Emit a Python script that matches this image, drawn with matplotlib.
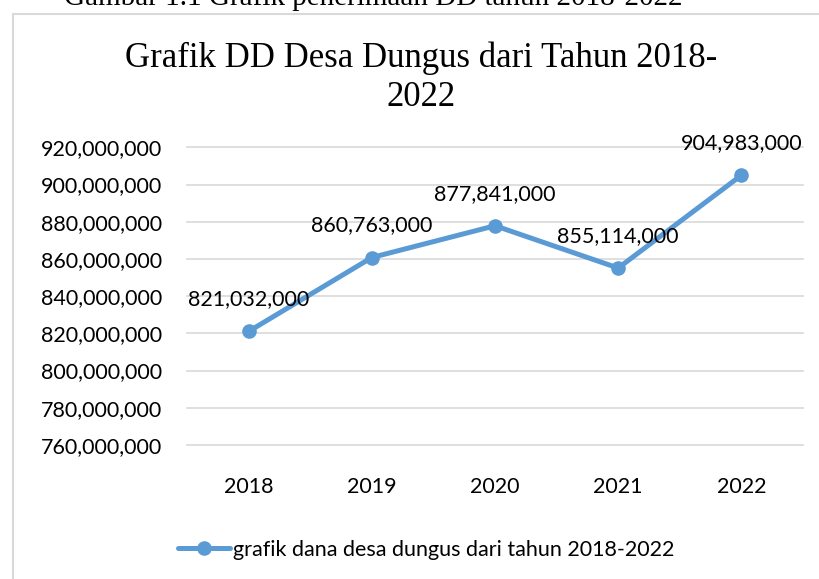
import matplotlib
matplotlib.use("Agg")
import matplotlib.pyplot as plt
from matplotlib.patches import Rectangle
from matplotlib.ticker import FuncFormatter

# data
years = ["2018", "2019", "2020", "2021", "2022"]
dana_desa = [821032000, 860763000, 877841000, 855114000, 904983000]
y_ticks = [760000000, 780000000, 800000000, 820000000, 840000000,
           860000000, 880000000, 900000000, 920000000]
series_name = "grafik dana desa dungus dari tahun 2018-2022"

blue = "#5b9bd5"
grid_col = "#d9d9d9"
sans = "Lato"
serif = "Liberation Serif"

fig = plt.figure(figsize=(8.19, 5.79), dpi=100)
fig.patch.set_facecolor("white")

# chart border (cut off on right and bottom like the screenshot)
fig.patches.append(Rectangle((12.7 / 819, -0.2), 1.3, 1 - 14 / 579 + 0.2,
                             transform=fig.transFigure, fill=False,
                             edgecolor=grid_col, linewidth=1.5))

# caption above the chart, mostly cut off in the original screenshot
fig.text(373 / 819, 1 - 5 / 579, "Gambar 1.1 Grafik penerimaan DD tahun 2018-2022",
         ha="center", va="baseline", fontsize=21, family=serif)

# chart title
fig.text(421.5 / 819, 1 - 67 / 579, "Grafik DD Desa Dungus dari Tahun 2018-",
         ha="center", va="baseline", fontsize=25, family=serif)
fig.text(421.5 / 819, 1 - 106 / 579, "2022",
         ha="center", va="baseline", fontsize=25, family=serif)

ax = fig.add_axes([187 / 819, 1 - 445 / 579, 616 / 819, 297.7 / 579])
x = list(range(len(years)))
line, = ax.plot(x, dana_desa, color=blue, linewidth=3.6, marker="o",
                markersize=9.5, solid_capstyle="round", zorder=3,
                label=series_name)

for xi, v in zip(x, dana_desa):
    ax.annotate(f"{v:,}", (xi, v), xytext=(0, 23), textcoords="offset points",
                ha="center", va="center", fontsize=15.5, family=sans)

ax.set_xlim(-0.5, len(years) - 0.5)
ax.set_ylim(y_ticks[0], y_ticks[-1])
ax.set_xticks(x)
ax.set_xticklabels(years)
ax.set_yticks(y_ticks)
ax.yaxis.set_major_formatter(FuncFormatter(lambda v, p: f"{int(v):,}"))
ax.tick_params(axis="both", length=0, labelsize=15.5)
ax.tick_params(axis="y", pad=18)
ax.tick_params(axis="x", pad=23)
for lab in ax.get_xticklabels() + ax.get_yticklabels():
    lab.set_family(sans)

for s in ax.spines.values():
    s.set_visible(False)
ax.yaxis.grid(True, color=grid_col, linewidth=1.2)
ax.set_axisbelow(True)
for gl in ax.yaxis.get_gridlines():
    gl.set_clip_on(False)

fig.legend(handles=[line], loc="center", bbox_to_anchor=(426 / 819, 1 - 550 / 579),
           frameon=False, handlelength=2.4, handletextpad=0.15,
           prop={"family": sans, "size": 15.5})

plt.savefig("out.png", dpi=100)
